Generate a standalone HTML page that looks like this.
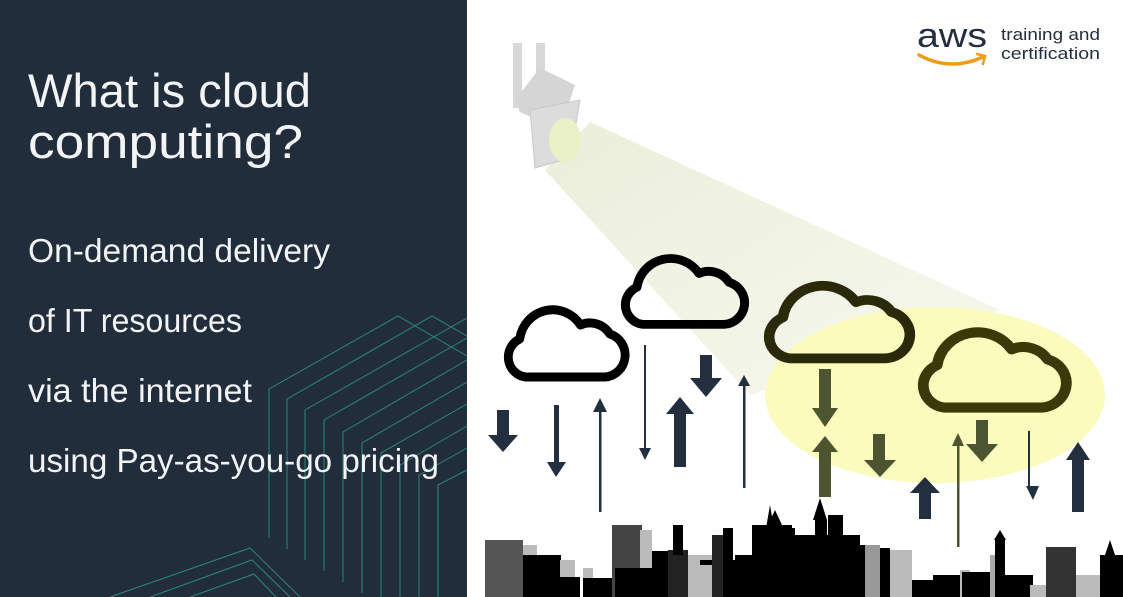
<!DOCTYPE html>
<html><head><meta charset="utf-8"><style>
html,body{margin:0;padding:0;background:#fff}
svg{display:block}
text{font-family:"Liberation Sans",sans-serif}
</style></head><body>
<svg width="1123" height="597" viewBox="0 0 1123 597" xmlns="http://www.w3.org/2000/svg">
<defs>
<linearGradient id="beam" x1="0" y1="0" x2="1" y2="1">
<stop offset="0" stop-color="#eceedb"/><stop offset="1" stop-color="#f6f8ee"/>
</linearGradient>
<path id="cloud" d="M22,80 H103 A22,22 0 0 0 108,37 A24,24 0 0 0 78,28 A34,34 0 0 0 16,42 A20,20 0 0 0 22,80 Z" fill="none" stroke-width="9" stroke-linejoin="round"/>
</defs>
<rect x="0" y="0" width="467" height="597" fill="#222d3c"/>
<g fill="none" stroke="#2fa58d" stroke-width="1" opacity="0.75">
<path d="M269,538 V389 L398,316 L467,356"/>
<path d="M287,549 V399 L432,316 L467,336"/>
<path d="M305,560 V410 L467,318"/>
<path d="M324,571 V420 L467,338"/>
<path d="M343,582 V432 L467,360"/>
<path d="M362,593 V443 L467,382"/>
<path d="M381,597 V453 L467,404"/>
<path d="M400,597 V465 L467,426"/>
<path d="M419,597 V475 L467,448"/>
<path d="M438,597 V485 L467,470"/>
<path d="M110,597 L250,548 L300,597"/>
<path d="M150,597 L252,560 L290,597"/>
<path d="M190,597 L254,574 L276,597"/>
</g>
<g fill="#f2f4f6">
<text x="28" y="107" font-size="47" textLength="283" lengthAdjust="spacingAndGlyphs">What is cloud</text>
<text x="28" y="158" font-size="47" textLength="275" lengthAdjust="spacingAndGlyphs">computing?</text>
<text x="28" y="262" font-size="33" textLength="302" lengthAdjust="spacingAndGlyphs">On-demand delivery</text>
<text x="28" y="332" font-size="33" textLength="214" lengthAdjust="spacingAndGlyphs">of IT resources</text>
<text x="28" y="402" font-size="33" textLength="224" lengthAdjust="spacingAndGlyphs">via the internet</text>
<text x="28" y="472" font-size="33" textLength="411" lengthAdjust="spacingAndGlyphs">using Pay-as-you-go pricing</text>
</g>
<text x="917" y="47" font-size="34" fill="#232f3e" textLength="70" lengthAdjust="spacingAndGlyphs">aws</text>
<path d="M919,55 Q950,72 983,57" fill="none" stroke="#f29a18" stroke-width="3.5" stroke-linecap="round"/>
<path d="M977,54 L985,56 L983,64" fill="none" stroke="#f29a18" stroke-width="2.5" stroke-linecap="round"/>
<text x="1001" y="40" font-size="17" fill="#232f3e" textLength="99" lengthAdjust="spacingAndGlyphs">training and</text>
<text x="1001" y="59" font-size="17" fill="#232f3e" textLength="99" lengthAdjust="spacingAndGlyphs">certification</text>
<polygon points="545,170 590,122 1000,310 750,395" fill="url(#beam)"/>
<ellipse cx="935" cy="395" rx="170" ry="88" fill="#fbfbbd"/>
<rect x="513" y="43" width="9" height="65" fill="#d8d8d8"/>
<rect x="536" y="43" width="9" height="60" fill="#d8d8d8"/>
<polygon points="515,100 540,68 575,85 560,130 520,112" fill="#d5d5d5"/>
<polygon points="530,110 580,100 570,158 535,168" fill="#dcdcdc" stroke="#c8c8c8"/>
<ellipse cx="565" cy="140" rx="16" ry="22" fill="#eaf0c8"/>
<use href="#cloud" stroke="#000" transform="translate(504,297) scale(0.98,1.0)"/>
<use href="#cloud" stroke="#000" transform="translate(621,246) scale(1.0,0.98)"/>
<use href="#cloud" stroke="#2a2a0a" transform="translate(764,272) scale(1.18,1.08)"/>
<use href="#cloud" stroke="#3a3a08" transform="translate(918,318) scale(1.2,1.12)"/>
<g fill="#232f3e">
<rect x="497" y="410" width="12" height="26"/><polygon points="488,435 518,435 503,452"/>
<rect x="554" y="405" width="5" height="60"/><polygon points="547,462 566,462 556,477"/>
<rect x="599" y="405" width="2.5" height="107"/><polygon points="593,412 607,412 600,398"/>
<rect x="644" y="345" width="2" height="105"/><polygon points="639,448 651,448 645,460"/>
<rect x="674" y="412" width="12" height="55"/><polygon points="666,414 694,414 680,397"/>
<rect x="700" y="355" width="12" height="25"/><polygon points="690,378 722,378 706,397"/>
<rect x="743" y="383" width="2.5" height="105"/><polygon points="738,386 750,386 744,375"/>
<rect x="919" y="492" width="12" height="27"/><polygon points="910,493 940,493 925,477"/>
<rect x="1028" y="431" width="2" height="58"/><polygon points="1026,486 1039,486 1033,500"/>
<rect x="1072" y="458" width="12" height="54"/><polygon points="1066,460 1090,460 1078,442"/>
</g>
<g fill="#4d5530">
<rect x="819" y="369" width="12" height="42"/><polygon points="812,408 838,408 825,427"/>
<rect x="819" y="450" width="12" height="47"/><polygon points="812,452 838,452 825,436"/>
<rect x="873" y="434" width="12" height="27"/><polygon points="864,460 896,460 880,477"/>
<rect x="957" y="440" width="2.5" height="107"/><polygon points="952,446 964,446 958,433"/>
<rect x="976" y="420" width="12" height="26"/><polygon points="966,444 998,444 982,462"/>
</g>
<g fill="#000">
<rect x="485" y="540" width="38" height="57" fill="#555"/>
<rect x="523" y="545" width="14" height="52" fill="#bbb"/>
<rect x="523" y="555" width="38" height="42"/>
<rect x="560" y="560" width="15" height="37" fill="#bbb"/>
<rect x="560" y="577" width="20" height="20"/>
<rect x="583" y="568" width="10" height="29" fill="#bbb"/>
<rect x="583" y="578" width="30" height="19"/>
<rect x="612" y="525" width="30" height="72" fill="#444"/>
<rect x="640" y="530" width="12" height="67" fill="#bbb"/>
<rect x="615" y="568" width="50" height="29"/>
<rect x="652" y="580" width="34" height="17"/>
<rect x="653" y="580" width="10" height="17" fill="#bbb"/>
<rect x="672" y="555" width="50" height="42" fill="#bbb"/>
<rect x="652" y="551" width="22" height="46"/>
<rect x="668" y="550" width="20" height="47" fill="#222"/>
<rect x="673" y="525" width="10" height="30"/>
<rect x="700" y="560" width="60" height="37"/>
<rect x="700" y="565" width="12" height="32" fill="#bbb"/>
<rect x="712" y="535" width="12" height="62" fill="#222"/>
<rect x="723" y="528" width="10" height="69"/>
<rect x="735" y="555" width="45" height="42"/>
<rect x="752" y="525" width="40" height="72"/>
<polygon points="775,510 782,525 768,525"/>
<polygon points="764,540 770,505 776,540"/>
<rect x="760" y="528" width="35" height="69"/>
<rect x="790" y="535" width="40" height="62"/>
<rect x="812" y="540" width="18" height="57"/>
<rect x="815" y="520" width="12" height="77"/>
<polygon points="813,520 820,498 827,520"/>
<rect x="828" y="515" width="15" height="82"/>
<rect x="840" y="535" width="20" height="62"/>
<rect x="855" y="545" width="25" height="52" fill="#999"/>
<rect x="855" y="545" width="10" height="52"/>
<rect x="880" y="550" width="32" height="47" fill="#bbb"/>
<rect x="880" y="548" width="10" height="49"/>
<rect x="912" y="580" width="30" height="17"/>
<rect x="933" y="575" width="30" height="22"/>
<rect x="960" y="570" width="10" height="27" fill="#bbb"/>
<rect x="962" y="572" width="30" height="25"/>
<rect x="990" y="555" width="12" height="42" fill="#aaa"/>
<rect x="995" y="540" width="10" height="57"/>
<polygon points="994,540 1000,530 1006,540"/>
<rect x="1003" y="575" width="30" height="22"/>
<rect x="1030" y="585" width="20" height="12" fill="#bbb"/>
<rect x="1046" y="547" width="30" height="50" fill="#333"/>
<rect x="1076" y="575" width="25" height="22" fill="#bbb"/>
<rect x="1100" y="555" width="23" height="42"/>
<polygon points="1105,555 1110,540 1115,555"/>
</g>
</svg>
</body></html>
